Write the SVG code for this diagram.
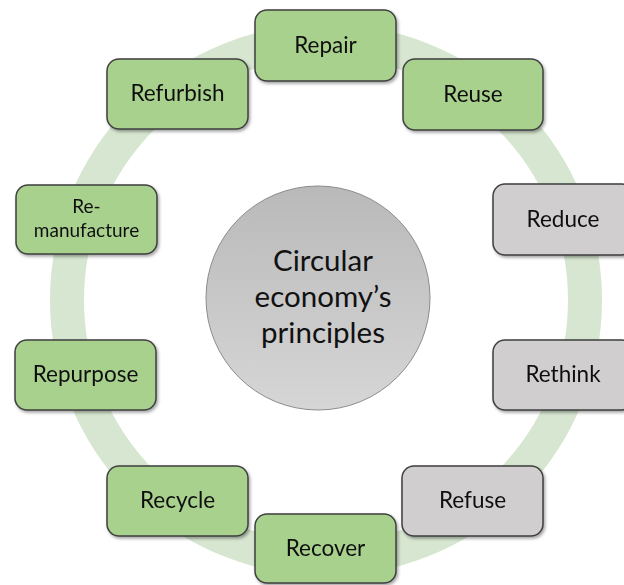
<svg xmlns="http://www.w3.org/2000/svg" width="624" height="585" viewBox="0 0 624 585">
<style>
.box{stroke:#3f3f3f;stroke-width:1.5}
.g{fill:#a9d18e}
.s{fill:#d0cece}
.t{font-family:Lato,"Open Sans",sans-serif;font-size:22.5px;fill:#111;text-anchor:middle}
.ts{font-size:19px}
.tc{font-family:Lato,"Open Sans",sans-serif;font-size:29.5px;fill:#111;text-anchor:middle}
</style>
<defs>
<filter id="sh" x="-10%" y="-10%" width="130%" height="140%">
<feDropShadow dx="1.5" dy="2" stdDeviation="1.5" flood-color="#000" flood-opacity="0.35"/>
</filter>
<linearGradient id="cg" x1="0" y1="0" x2="0" y2="1">
<stop offset="0" stop-color="#b9b9b9"/>
<stop offset="1" stop-color="#d6d6d6"/>
</linearGradient>
</defs>
<rect width="624" height="585" fill="#fff"/>
<g id="connectors">
<circle cx="326" cy="300" r="259" fill="none" stroke="#d6e6d0" stroke-width="34"/>
</g>
<g id="center">
<circle cx="318" cy="298" r="112" fill="url(#cg)" stroke="#8c8c8c" stroke-width="1"/>
<text class="tc" x="323" y="271">Circular</text>
<text class="tc" x="323" y="307">economy’s</text>
<text class="tc" x="323" y="343">principles</text>
</g>
<g id="repair" filter="url(#sh)"><rect class="box g" x="255" y="10" width="141" height="71" rx="12"/><text class="t" x="325.5" y="53">Repair</text></g>
<g id="reuse" filter="url(#sh)"><rect class="box g" x="403" y="59" width="140" height="71" rx="12"/><text class="t" x="473" y="102">Reuse</text></g>
<g id="refurbish" filter="url(#sh)"><rect class="box g" x="107" y="59" width="141" height="70" rx="12"/><text class="t" x="177.5" y="101">Refurbish</text></g>
<g id="remanufacture" filter="url(#sh)"><rect class="box g" x="16" y="185" width="141" height="69" rx="12"/><text class="t ts" x="86.5" y="213">Re-</text><text class="t ts" x="86.5" y="237">manufacture</text></g>
<g id="reduce" filter="url(#sh)"><rect class="box s" x="493" y="184" width="141" height="71" rx="12"/><text class="t" x="563" y="227">Reduce</text></g>
<g id="rethink" filter="url(#sh)"><rect class="box s" x="493" y="340" width="141" height="70" rx="12"/><text class="t" x="563" y="382">Rethink</text></g>
<g id="repurpose" filter="url(#sh)"><rect class="box g" x="15" y="340" width="141" height="70" rx="12"/><text class="t" x="85.5" y="382">Repurpose</text></g>
<g id="recycle" filter="url(#sh)"><rect class="box g" x="107" y="466" width="141" height="70" rx="12"/><text class="t" x="177.5" y="508">Recycle</text></g>
<g id="refuse" filter="url(#sh)"><rect class="box s" x="402" y="466" width="141" height="70" rx="12"/><text class="t" x="472.5" y="508">Refuse</text></g>
<g id="recover" filter="url(#sh)"><rect class="box g" x="255" y="514" width="141" height="69" rx="12"/><text class="t" x="325.5" y="556">Recover</text></g>
</svg>
